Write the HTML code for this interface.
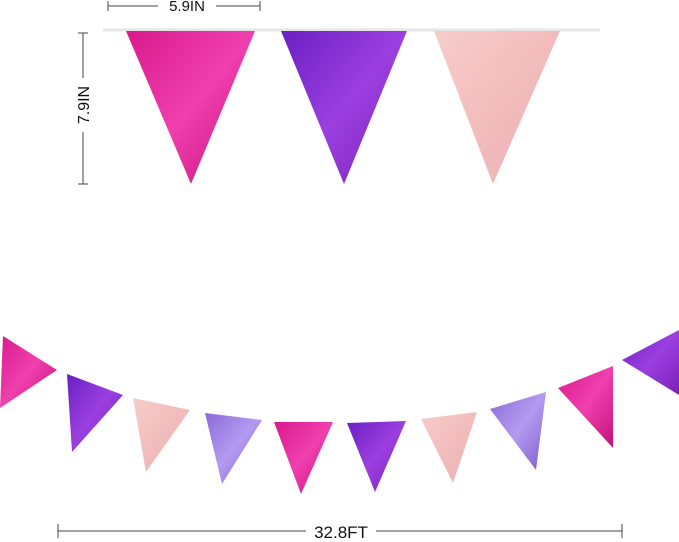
<!DOCTYPE html>
<html><head><meta charset="utf-8"><style>
html,body{margin:0;padding:0;background:#fff;width:679px;height:542px;overflow:hidden}
svg{display:block}
text{font-family:"Liberation Sans",sans-serif;fill:#111}
</style></head><body>
<svg width="679" height="542" viewBox="0 0 679 542" xmlns="http://www.w3.org/2000/svg">
<defs>
<linearGradient id="mag" x1="0" y1="0" x2="1" y2="1"><stop offset="0" stop-color="#d81a8c"/><stop offset="0.5" stop-color="#f03fae"/><stop offset="1" stop-color="#c4127a"/></linearGradient>
<linearGradient id="pur" x1="0" y1="0" x2="1" y2="1"><stop offset="0" stop-color="#6a1fc2"/><stop offset="0.5" stop-color="#9b3fe0"/><stop offset="1" stop-color="#7a1fb8"/></linearGradient>
<linearGradient id="pnk" x1="0" y1="0" x2="1" y2="1"><stop offset="0" stop-color="#f6cdcb"/><stop offset="0.5" stop-color="#f2bcbc"/><stop offset="1" stop-color="#eab0b4"/></linearGradient>
<linearGradient id="lav" x1="0" y1="0" x2="1" y2="1"><stop offset="0" stop-color="#8a6ad8"/><stop offset="0.5" stop-color="#b49af0"/><stop offset="1" stop-color="#7e5ccc"/></linearGradient>
</defs>
<line x1="108" y1="6" x2="260" y2="6" stroke="#444" stroke-width="1"/>
<line x1="108" y1="1" x2="108" y2="11" stroke="#444"/><line x1="260" y1="1" x2="260" y2="11" stroke="#444"/>
<rect x="158" y="0" width="58" height="12" fill="#fff"/>
<text x="187" y="11" font-size="15" text-anchor="middle">5.9IN</text>
<line x1="83" y1="33" x2="83" y2="184" stroke="#444"/>
<line x1="78" y1="33" x2="88" y2="33" stroke="#444"/><line x1="78" y1="184" x2="88" y2="184" stroke="#444"/>
<rect x="74" y="78" width="18" height="54" fill="#fff"/>
<text x="0" y="0" font-size="16" text-anchor="middle" transform="translate(89,105) rotate(-90)">7.9IN</text>
<line x1="103" y1="30" x2="600" y2="30" stroke="#e6e6e6" stroke-width="3"/>
<polygon points="126,31 255,31 191,184" fill="url(#mag)"/>
<polygon points="281,31 407,31 344,184" fill="url(#pur)"/>
<polygon points="434,31 560,31 493,184" fill="url(#pnk)"/>
<polygon points="3,336 57,370 0,408" fill="url(#mag)"/>
<polygon points="67,374 123,395 72,452" fill="url(#pur)"/>
<polygon points="133,398 190,410 146,472" fill="url(#pnk)"/>
<polygon points="205,413 262,420 222,484" fill="url(#lav)"/>
<polygon points="274,422 333,422 301,494" fill="url(#mag)"/>
<polygon points="347,423 406,421 375,492" fill="url(#pur)"/>
<polygon points="421,419 477,412 453,483" fill="url(#pnk)"/>
<polygon points="490,409 546,392 536,470" fill="url(#lav)"/>
<polygon points="558,388 613,366 613,448" fill="url(#mag)"/>
<polygon points="622,360 679,330 679,395" fill="url(#pur)"/>
<line x1="58" y1="531" x2="622" y2="531" stroke="#444"/>
<line x1="58" y1="524" x2="58" y2="538" stroke="#444"/><line x1="622" y1="524" x2="622" y2="538" stroke="#444"/>
<rect x="306" y="522" width="70" height="18" fill="#fff"/>
<text x="341" y="538" font-size="17" text-anchor="middle">32.8FT</text>
</svg>
</body></html>
